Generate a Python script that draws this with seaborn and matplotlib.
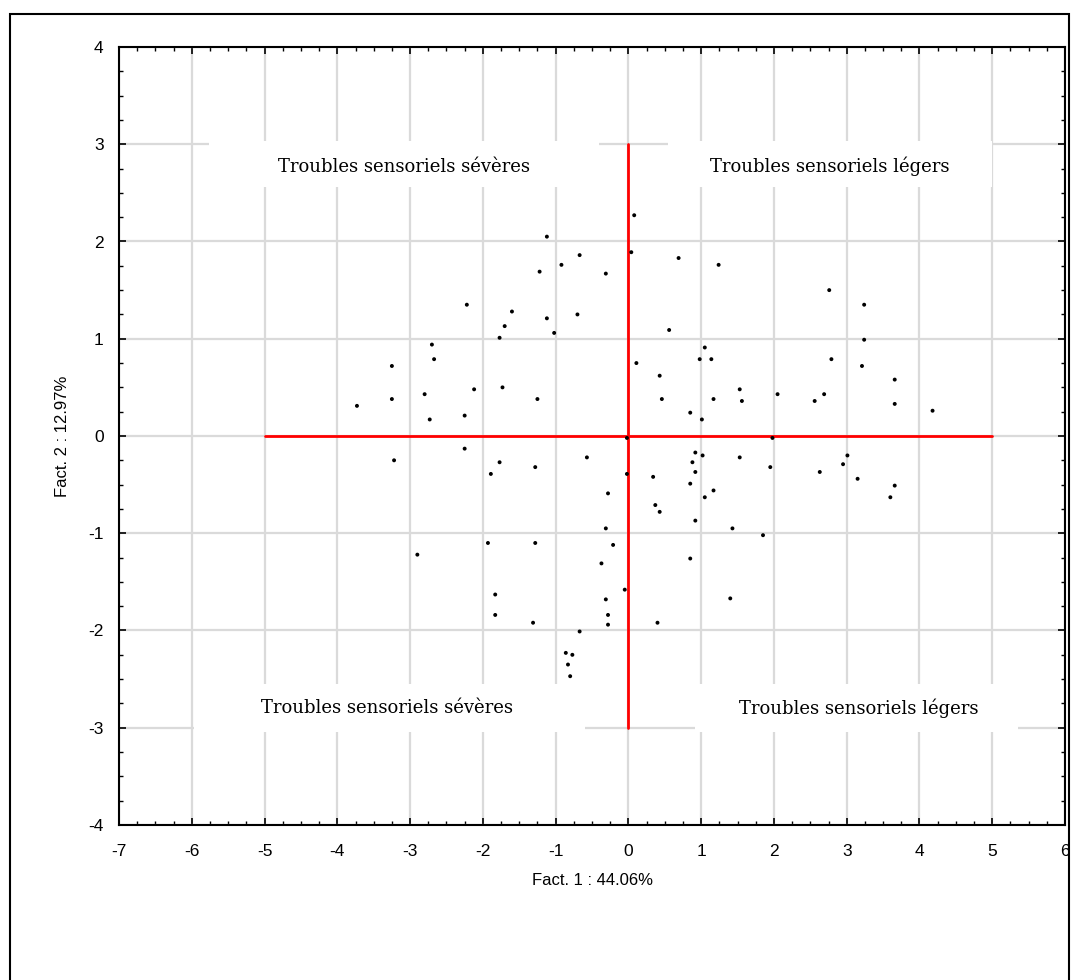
import matplotlib
matplotlib.use("Agg")
import matplotlib.pyplot as plt
from matplotlib.patches import Rectangle
from matplotlib.ticker import MultipleLocator
import seaborn as sns
import pandas as pd

# ---- data ----
fact1 = [-1.12, -0.67, -0.92, -1.22, -0.31, -2.22, -1.60, -1.12, -0.70, -1.70, -1.02, -1.77,
         -2.70, -2.67, -3.25, -2.12, -1.73, -3.25, -2.80, -1.25, -3.73, -2.25, -2.73,
         0.08, 0.04, 0.69, 1.24, 2.76, 3.24, 0.56, 1.05, 3.24, 0.98, 1.14, 2.79, 0.11, 3.21,
         0.43, 3.66, 1.53, 0.46, 1.17, 1.56, 2.05, 2.56, 2.69, 3.66, 4.18, 0.85, 1.01, 1.98,
         -0.02, -2.25, -3.22, -1.77, -1.89, -1.28, -0.57, -0.02, -0.28, -0.31, -1.93, -1.28,
         -0.21, -2.90, -0.37, -0.05, -1.83, -0.31, -1.83, -0.28, -1.31, -0.28, -0.67, -0.86,
         -0.77, -0.83, -0.80,
         0.34, 0.92, 1.02, 0.88, 0.92, 0.85, 1.53, 1.95, 1.17, 1.05, 0.37, 0.43, 0.92, 1.43,
         1.85, 0.85, 1.40, 0.40, 2.63, 2.95, 3.01, 3.15, 3.66, 3.60]
fact2 = [2.05, 1.86, 1.76, 1.69, 1.67, 1.35, 1.28, 1.21, 1.25, 1.13, 1.06, 1.01,
         0.94, 0.79, 0.72, 0.48, 0.50, 0.38, 0.43, 0.38, 0.31, 0.21, 0.17,
         2.27, 1.89, 1.83, 1.76, 1.50, 1.35, 1.09, 0.91, 0.99, 0.79, 0.79, 0.79, 0.75, 0.72,
         0.62, 0.58, 0.48, 0.38, 0.38, 0.36, 0.43, 0.36, 0.43, 0.33, 0.26, 0.24, 0.17, -0.02,
         -0.02, -0.13, -0.25, -0.27, -0.39, -0.32, -0.22, -0.39, -0.59, -0.95, -1.10, -1.10,
         -1.12, -1.22, -1.31, -1.58, -1.63, -1.68, -1.84, -1.84, -1.92, -1.94, -2.01, -2.23,
         -2.25, -2.35, -2.47,
         -0.42, -0.17, -0.20, -0.27, -0.37, -0.49, -0.22, -0.32, -0.56, -0.63, -0.71, -0.78,
         -0.87, -0.95, -1.02, -1.26, -1.67, -1.92, -0.37, -0.29, -0.20, -0.44, -0.51, -0.63]

region_labels = ["Troubles sensoriels sévères", "Troubles sensoriels légers",
                 "Troubles sensoriels sévères", "Troubles sensoriels légers"]
label_x = [-3.09, 2.77, -3.32, 3.17]
label_y = [2.77, 2.77, -2.80, -2.80]
box_x0 = [-5.77, 0.55, -5.97, 0.92]
box_x1 = [-0.40, 5.00, -0.60, 5.36]
box_y0 = [2.56, 2.56, -3.04, -3.04]
box_y1 = [3.03, 3.03, -2.55, -2.55]

x_ticks = list(range(-7, 7))
y_ticks = list(range(-4, 5))
x_label = "Fact. 1 : 44.06%"
y_label = "Fact. 2 : 12.97%"

df = pd.DataFrame({"f1": fact1, "f2": fact2})

sns.set_theme(style="white")
plt.rcParams["font.family"] = ["Liberation Sans", "DejaVu Sans"]
plt.rcParams["axes.unicode_minus"] = False

fig = plt.figure(figsize=(10.72, 9.8), dpi=100)
ax = fig.add_axes([119 / 1072, 1 - 825 / 980, (1065 - 119) / 1072, (825 - 47) / 980])

# outer frame
fig.add_artist(Rectangle((10 / 1072, -0.02), (1069 - 10) / 1072, 1 - 14 / 980 + 0.02,
                         transform=fig.transFigure, facecolor="none",
                         edgecolor="black", linewidth=1.5, clip_on=False))

ax.set_xlim(-7, 6)
ax.set_ylim(-4, 4)
ax.set_xticks(x_ticks)
ax.set_yticks(y_ticks)
ax.xaxis.set_minor_locator(MultipleLocator(0.25))
ax.yaxis.set_minor_locator(MultipleLocator(0.25))
ax.grid(True, which="major", color="#dadada", linewidth=1.6, zorder=0)
ax.set_axisbelow(True)
ax.tick_params(which="both", direction="in", top=True, right=True, bottom=True, left=True,
               colors="black", labelsize=12.5)
ax.tick_params(axis="x", which="major", pad=14)
ax.tick_params(axis="y", which="major", pad=11)
ax.tick_params(which="major", length=5, width=1.2)
ax.tick_params(which="minor", length=3, width=1.0)
for s in ax.spines.values():
    s.set_color("black")
    s.set_linewidth(1.5)

# white label boxes
for x0, x1, y0, y1 in zip(box_x0, box_x1, box_y0, box_y1):
    ax.add_patch(Rectangle((x0, y0), x1 - x0, y1 - y0, facecolor="white",
                           edgecolor="none", zorder=1))
for t, lx, ly in zip(region_labels, label_x, label_y):
    ax.text(lx, ly, t, ha="center", va="center", fontsize=13,
            family=["DejaVu Serif"], color="black", zorder=2)

# red axes
ax.plot([-5, 5], [0, 0], color="#ff0000", linewidth=2, zorder=3)
ax.plot([0, 0], [-3, 3], color="#ff0000", linewidth=2, zorder=3)

sns.scatterplot(data=df, x="f1", y="f2", ax=ax, color="black", s=8,
                edgecolor="none", linewidth=0, zorder=4, legend=False)

ax.set_xlabel(x_label, fontsize=12, labelpad=10)
ax.set_ylabel(y_label, fontsize=12, labelpad=13)
ax.xaxis.label.set_color("black")
ax.yaxis.label.set_color("black")

fig.savefig("out.png", dpi=100)
